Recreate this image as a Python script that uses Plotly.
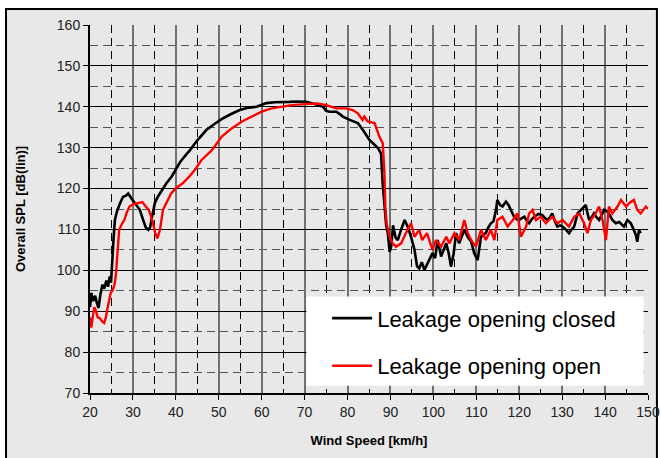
import plotly.graph_objects as go

# ---- data ----
closed_x = [20.0, 20.3, 20.7, 21.2, 21.6, 22.0, 22.4, 22.9, 23.3, 23.8, 24.2, 24.6, 24.9, 25.2, 25.5, 25.8,
            26.3, 27.0, 27.7, 28.3, 28.9, 29.7, 30.5, 31.0, 31.6, 32.4, 33.0, 33.6, 34.0, 34.3, 35.1, 35.8,
            36.7, 37.8, 39.0, 39.8, 41.0, 42.0, 43.3, 45.0, 47.1, 49.0, 51.0, 53.0, 54.9, 57.0, 58.8, 61.1,
            63.0, 66.5, 68.0, 70.4, 71.2, 72.5, 74.3, 75.0, 75.8, 77.4, 78.2, 78.9, 80.5, 82.4, 83.6, 85.1,
            87.1, 87.8, 88.2, 88.6, 89.0, 89.4, 89.8, 90.2, 90.6, 91.2, 91.7, 92.5, 93.3, 94.0, 94.8, 95.6,
            96.2, 96.7, 97.3, 97.9, 98.5, 99.1, 99.8, 100.4, 101.0, 101.8, 102.4, 103.0, 103.6, 104.1, 104.7,
            105.3, 106.0, 106.6, 107.2, 108.0, 108.8, 109.5, 110.3, 111.1, 112.2, 112.8, 113.4, 114.0, 114.6,
            114.9, 115.5, 116.1, 116.9, 117.5, 118.0, 118.8, 119.4, 120.0, 120.6, 121.2, 121.8, 122.3, 122.9,
            123.5, 124.5, 125.4, 126.0, 126.6, 127.2, 127.7, 128.3, 128.9, 129.5, 130.1, 130.8, 131.6, 132.2,
            132.8, 133.6, 134.4, 135.0, 135.5, 135.9, 136.3, 136.9, 137.4, 138.0, 138.6, 139.2, 139.8, 140.4,
            140.9, 141.7, 142.5, 143.3, 144.4, 145.2, 146.0, 146.7, 147.2, 147.5, 147.9, 148.3]
closed_spl = [91.0, 94.5, 92.5, 93.8, 92.0, 90.8, 94.0, 96.5, 95.5, 97.5, 96.0, 98.5, 97.0, 104.0, 108.0, 112.3,
              114.5, 116.4, 118.0, 118.2, 118.8, 117.5, 116.4, 115.6, 114.8, 112.3, 110.5, 109.9, 110.5, 112.3, 116.4, 118.0,
              119.6, 121.3, 122.9, 124.5, 126.5, 127.8, 129.4, 131.8, 134.3, 135.8, 137.2, 138.3, 139.2, 139.8, 140.0, 140.9,
              141.1, 141.2, 141.3, 141.2, 140.9, 140.6, 140.0, 139.0, 138.8, 138.8, 138.2, 137.6, 136.8, 136.0, 134.3, 131.9,
              129.9, 128.6, 121.0, 116.0, 111.0, 109.0, 104.5, 106.0, 111.0, 108.0, 107.4, 110.0, 112.3, 110.7, 108.2, 105.0,
              101.0, 100.5, 102.0, 100.1, 101.5, 102.5, 104.2, 103.0, 107.4, 103.4, 105.0, 106.6, 104.0, 100.9, 104.0,
              109.1, 106.6, 108.5, 109.9, 108.2, 107.0, 104.2, 102.5, 108.2, 109.1, 110.5, 111.5, 112.0, 114.8,
              117.2, 116.0, 115.6, 116.8, 116.0, 114.8, 113.1, 112.5, 112.3, 112.8, 113.1, 112.0, 111.5, 112.5,
              113.1, 113.8, 113.5, 112.8, 112.3, 113.0, 113.9, 112.0, 110.7, 111.0, 110.7, 110.0, 109.1, 110.0,
              110.7, 113.9, 114.8, 115.5, 116.0, 114.0, 112.3, 113.0, 113.9, 113.0, 112.3, 113.5, 114.8, 114.5,
              113.9, 112.3, 111.5, 111.8, 110.7, 112.3, 111.5, 109.9, 108.5, 107.0, 109.9, 109.1]

open_x = [20.0, 20.3, 20.7, 21.0, 21.4, 21.8, 22.3, 22.8, 23.3, 23.7, 24.0, 24.5, 24.8, 25.3, 25.7, 26.0,
          26.4, 26.8, 27.5, 28.0, 28.5, 29.2, 30.1, 31.1, 32.2, 33.0, 33.7, 34.5, 35.2, 35.7, 36.3, 37.0,
          38.1, 38.9, 40.0, 41.6, 43.1, 44.6, 46.0, 48.4, 50.7, 53.0, 55.4, 57.7, 60.0, 62.3, 64.7, 67.0,
          70.9, 73.0, 75.0, 77.4, 79.7, 81.2, 82.4, 83.5, 83.9, 84.7, 86.3, 87.4, 88.2, 88.6, 88.8, 89.1,
          89.8, 90.5, 91.3, 92.5, 93.6, 94.8, 95.6, 96.7, 97.4, 98.5, 99.8, 100.6, 101.8, 103.0, 103.7,
          104.9, 106.0, 107.2, 108.0, 108.8, 109.9, 111.1, 112.2, 113.4, 114.2, 114.9, 116.1, 117.3, 118.5,
          119.6, 120.4, 121.6, 122.3, 123.1, 123.9, 125.0, 126.2, 127.7, 128.9, 130.1, 131.6, 132.8, 134.0,
          135.1, 135.9, 136.7, 137.8, 138.6, 139.4, 140.2, 140.9, 141.7, 142.9, 143.7, 144.9, 145.6, 146.7,
          147.5, 148.3, 149.5, 150.0]
open_spl = [88.5, 86.0, 89.0, 91.0, 90.0, 88.5, 88.3, 87.5, 87.1, 88.5, 90.3, 93.0, 94.4, 95.2, 96.5, 98.5,
            104.2, 109.9, 111.5, 112.3, 114.0, 115.6, 116.2, 116.4, 116.7, 115.6, 114.8, 112.3, 109.1, 107.8, 109.9, 114.8,
            117.2, 118.8, 120.1, 121.3, 122.9, 124.8, 127.0, 129.4, 132.7, 134.7, 136.4, 137.6, 138.8, 139.6, 140.0, 140.4,
            140.7, 140.8, 140.4, 139.6, 139.6, 139.2, 138.4, 136.8, 137.6, 136.4, 136.0, 132.7, 131.1, 123.7, 115.6, 111.5,
            108.2, 106.6, 105.8, 106.6, 109.1, 111.5, 108.2, 109.9, 107.4, 109.1, 105.0, 107.4, 105.8, 108.2, 106.6,
            109.1, 107.4, 112.3, 109.1, 107.4, 105.8, 109.9, 107.4, 109.9, 107.4, 112.3, 113.1, 110.7, 112.3,
            113.9, 108.2, 110.7, 113.9, 114.8, 112.3, 113.1, 111.5, 113.1, 111.5, 112.3, 110.7, 113.1, 113.9,
            111.5, 109.1, 112.3, 113.9, 115.6, 112.3, 107.4, 115.6, 113.9, 115.6, 117.2, 115.6, 116.4, 117.2,
            114.8, 113.9, 115.6, 115.0]

series_names = ["Leakage opening closed", "Leakage opening open"]
x_ticks = list(range(20, 151, 10))
y_ticks = list(range(70, 161, 10))

FONT = "Liberation Sans, Arial, sans-serif"

fig = go.Figure()
fig.add_trace(go.Scatter(x=closed_x, y=closed_spl, mode="lines", name=series_names[0],
                         line=dict(color="black", width=2.6), legendgroup="a"))
fig.add_trace(go.Scatter(x=open_x, y=open_spl, mode="lines", name=series_names[1],
                         line=dict(color="#ff0000", width=2.4), legendgroup="b"))

# outer grey frame
fig.add_shape(type="rect", xref="paper", yref="paper", x0=-0.1505, x1=1.016, y0=-0.35, y1=1.0435,
              fillcolor="#e8e8e8", line=dict(color="black", width=2), layer="below")
# white legend box
fig.add_shape(type="rect", xref="paper", yref="paper", x0=0.388, x1=0.992, y0=0.02, y1=0.262,
              fillcolor="white", line=dict(width=0), layer="above")

fig.update_layout(
    width=661, height=458,
    margin=dict(l=90, r=13, t=25, b=65, autoexpand=False),
    paper_bgcolor="white",
    plot_bgcolor="white",
    showlegend=True,
    legend=dict(x=0.425, y=0.26, xanchor="left", yanchor="top", bgcolor="rgba(0,0,0,0)",
                font=dict(family=FONT, size=22, color="black"), tracegroupgap=16,
                itemwidth=40),
    font=dict(family=FONT, color="#222"),
)
fig.update_xaxes(
    range=[20, 150], tickvals=x_ticks, ticktext=[str(v) for v in x_ticks], automargin=False,
    showline=True, linecolor="black", linewidth=2, ticks="outside", ticklen=5, tickcolor="black",
    showgrid=True, gridcolor="#707070", gridwidth=1.5,
    minor=dict(dtick=5, tick0=0, showgrid=True, gridcolor="black", griddash="8px,5px", gridwidth=1.3),
    tickfont=dict(size=14, family=FONT, color="#222"),
    title=dict(text="<b>Wind Speed [km/h]</b>", font=dict(size=13, family=FONT, color="black"), standoff=17),
    zeroline=False,
)
fig.update_yaxes(
    range=[70, 160], tickvals=y_ticks, ticktext=[str(v) for v in y_ticks], automargin=False,
    showline=True, linecolor="black", linewidth=2, ticks="outside", ticklen=5, tickcolor="black",
    showgrid=True, gridcolor="black", gridwidth=1,
    minor=dict(dtick=5, tick0=0, showgrid=True, gridcolor="#555", griddash="8px,5px", gridwidth=1),
    tickfont=dict(size=14, family=FONT, color="#222"),
    title=dict(text="<b>Overall SPL [dB(lin)]</b>", font=dict(size=13, family=FONT, color="black"), standoff=28),
    zeroline=False,
)

fig.write_html("out.html")
